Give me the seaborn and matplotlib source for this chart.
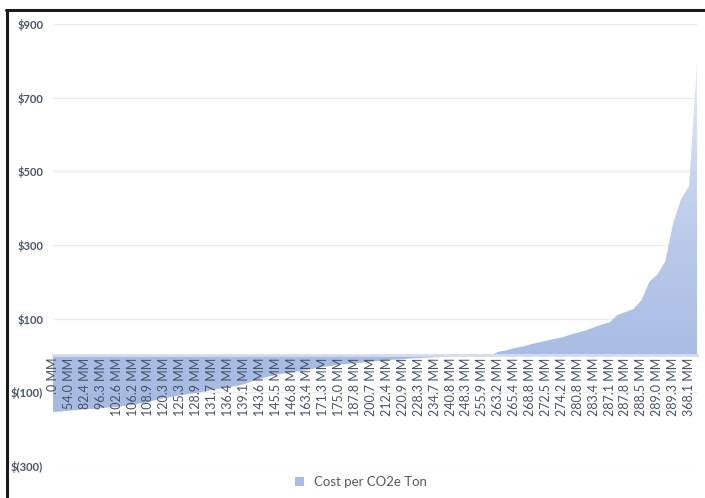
import numpy as np
import pandas as pd
import matplotlib
matplotlib.use("Agg")
import matplotlib.pyplot as plt
import seaborn as sns
from matplotlib.colors import LinearSegmentedColormap
from matplotlib.patches import Patch, PathPatch
from matplotlib.lines import Line2D

# Cumulative abatement labels (one label every second measure)
abatement_labels = [
    ".0 MM", "54.0 MM", "82.4 MM", "96.3 MM", "102.6 MM", "106.2 MM", "108.9 MM",
    "120.3 MM", "125.3 MM", "128.9 MM", "131.7 MM", "136.4 MM", "139.1 MM",
    "143.6 MM", "145.5 MM", "146.8 MM", "163.4 MM", "171.3 MM", "175.0 MM",
    "187.8 MM", "200.7 MM", "212.4 MM", "220.9 MM", "228.3 MM", "234.7 MM",
    "240.8 MM", "248.3 MM", "255.9 MM", "263.2 MM", "265.4 MM", "268.8 MM",
    "272.5 MM", "274.2 MM", "280.8 MM", "283.4 MM", "287.1 MM", "287.8 MM",
    "288.5 MM", "289.0 MM", "289.3 MM", "368.1 MM",
]

# Cost per CO2e ton for each measure, sorted from cheapest to most expensive
cost_per_ton = [
    -154, -152, -150, -148, -146, -145, -143, -141, -140, -137,
    -134, -130, -127, -120, -116, -112, -108, -105, -102, -98,
    -94, -90, -86, -83, -78, -70, -64, -58, -53, -49,
    -46, -43, -39, -35, -31, -28, -25, -23, -21, -19,
    -17, -15, -13, -11, -10, -8, -7, -6, -5, -4,
    -3, -2, -2, -1, -1, 0, 10, 14, 20, 24,
    30, 35, 40, 45, 49, 56, 62, 68, 76, 84,
    90, 110, 118, 126, 150, 200, 220, 255, 360, 425,
    460, 800,
]

y_ticks = [-300, -100, 100, 300, 500, 700, 900]
y_labels = ["$(300)", "$(100)", "$100", "$300", "$500", "$700", "$900"]

series_name = "Cost per CO2e Ton"

sns.set_theme(style="white")
plt.rcParams["font.family"] = ["Lato", "DejaVu Sans"]

label_color = "#465366"
base_blue = "#a9bce3"

fig = plt.figure(figsize=(7.05, 4.98), dpi=100)
ax = fig.add_axes([0.0752, 0.0643, 0.9135, 0.8875])

df = pd.DataFrame({"measure": np.arange(len(cost_per_ton)), "cost": cost_per_ton})
n = len(df)

# outline of the curve (invisible), then the filled area with a vertical gradient
sns.lineplot(data=df, x="measure", y="cost", ax=ax, color=base_blue, linewidth=0)
area = ax.fill_between(df["measure"], 0, df["cost"], facecolor="none", edgecolor="none")

clip = PathPatch(area.get_paths()[0], transform=ax.transData,
                 facecolor="none", edgecolor="none")
ax.add_patch(clip)

grad_cmap = LinearSegmentedColormap.from_list(
    "area_grad",
    [(0.0, "#a6b9e1"), (0.25, "#a9bce3"), (0.5, "#b9c9ea"),
     (0.75, "#d3ddf1"), (1.0, "#eef2fa")],
)
gradient = np.linspace(0, 1, 256).reshape(-1, 1)
img = ax.imshow(gradient, extent=[0, n - 1, -300, 900], origin="lower",
                aspect="auto", cmap=grad_cmap, zorder=1.5, interpolation="bilinear")
img.set_clip_path(clip)

ax.set_xlim(0, n - 1)
ax.set_ylim(-300, 900)

# y axis
ax.set_yticks(y_ticks)
ax.set_yticklabels(y_labels, fontsize=8, fontweight="bold", color=label_color)
ax.yaxis.grid(True, color="#ebebeb", linewidth=0.9)
ax.set_axisbelow(True)

# category axis crossing at zero, labels drawn over the area
ax.spines["bottom"].set_position(("data", 0))
ax.spines["bottom"].set_color("#d3dcef")
ax.spines["bottom"].set_linewidth(2)
ax.spines["bottom"].set_zorder(3)
for side in ("left", "right", "top"):
    ax.spines[side].set_visible(False)

ax.set_xticks(np.arange(0, len(abatement_labels) * 2, 2))
ax.set_xticklabels(abatement_labels, rotation=90, fontsize=9, color=label_color)
ax.tick_params(axis="x", length=0, pad=1.5)
ax.tick_params(axis="y", length=0, pad=7)
ax.xaxis.set_zorder(5)

ax.set_xlabel("")
ax.set_ylabel("")

fig.legend(handles=[Patch(facecolor=base_blue, edgecolor="none", label=series_name)],
           loc="center", bbox_to_anchor=(0.512, 0.032), frameon=False,
           fontsize=9.5, handlelength=0.7, handleheight=0.7, handletextpad=0.8,
           labelcolor="#595959")

# dark frame along the left and top edges
fig.add_artist(Line2D([6.5 / 705, 6.5 / 705], [0, 1 - 10.5 / 498],
                      transform=fig.transFigure, color="#1a1a1a", linewidth=2.2))
fig.add_artist(Line2D([5.5 / 705, 1], [1 - 10.5 / 498, 1 - 10.5 / 498],
                      transform=fig.transFigure, color="#1a1a1a", linewidth=2.2))

fig.savefig("out.png", dpi=100)
